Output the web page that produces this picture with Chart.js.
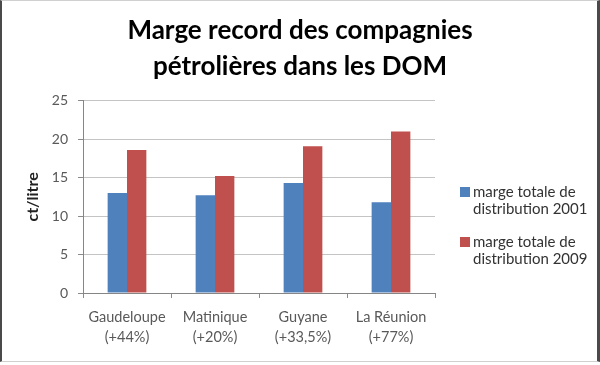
<!DOCTYPE html>
<html>
<head>
<meta charset="utf-8">
<script src="https://cdn.jsdelivr.net/npm/chart.js"></script>
<style>
  body { margin: 0; background: #fff; }
  #wrap { position: relative; width: 600px; height: 365px; }
  #frame {
    position: absolute; left: 0; top: 0; width: 595px; height: 360px;
    border-left: 2px solid #4a4a4a; border-right: 3px solid #4a4a4a;
    border-top: 1px solid #d0d0d0; border-bottom: 1px solid #d0d0d0;
    pointer-events: none;
  }
</style>
</head>
<body>
<div id="wrap">
  <canvas id="chart" width="600" height="365"></canvas>
  <div id="frame"></div>
</div>
<script>
var categories = [
    ['Gaudeloupe', '(+44%)'],
    ['Matinique', '(+20%)'],
    ['Guyane', '(+33,5%)'],
    ['La Réunion', '(+77%)']
];
var marge2001 = [13.0, 12.7, 14.3, 11.8];
var marge2009 = [18.6, 15.2, 19.1, 21.0];
var legend2001 = ['marge totale de', 'distribution 2001'];
var legend2009 = ['marge totale de', 'distribution 2009'];
var titleLines = ['Marge record des compagnies', 'pétrolières dans les DOM'];
var yTitle = 'ct/litre';
var yMin = 0, yMax = 25, yStep = 5;

// legend drawn by hand since the labels wrap on two lines,
// and the title is re-centred over the whole canvas
var wrapLegend = {
    id: 'wrapLegend',
    afterLayout: function(chart) {
        chart.titleBlock.left = 0;
        chart.titleBlock.right = chart.width;
    },
    afterDraw: function(chart) {
        var ctx = chart.ctx;
        var x = chart.chartArea.right + 25;
        var items = [
            { lines: legend2001, color: chart.data.datasets[0].backgroundColor, y: 187 },
            { lines: legend2009, color: chart.data.datasets[1].backgroundColor, y: 237 }
        ];
        ctx.save();
        ctx.font = '15px Lato';
        ctx.textBaseline = 'middle';
        ctx.textAlign = 'left';
        items.forEach(function(it) {
            ctx.fillStyle = it.color;
            ctx.fillRect(x, it.y, 10, 10);
            ctx.fillStyle = '#333';
            ctx.fillText(it.lines[0], x + 13, it.y + 5);
            ctx.fillText(it.lines[1], x + 13, it.y + 22);
        });
        ctx.restore();
    }
};

var ctx = document.getElementById('chart').getContext('2d');
var myChart = new Chart(ctx, {
    type: 'bar',
    data: {
        labels: categories,
        datasets: [{
            label: legend2001.join(' '),
            data: marge2001,
            backgroundColor: '#4F81BD',
            barPercentage: 1,
            categoryPercentage: 0.44
        },
        {
            label: legend2009.join(' '),
            data: marge2009,
            backgroundColor: '#C0504D',
            barPercentage: 1,
            categoryPercentage: 0.44
        }]
    },
    options: {
        responsive: false,
        animation: false,
        layout: { padding: { left: 0, right: 165, top: 0, bottom: 0 } },
        plugins: {
            legend: { display: false },
            tooltip: { enabled: false },
            title: {
                display: true,
                text: titleLines,
                color: '#000',
                font: { family: 'Lato', size: 26, weight: 'bold', lineHeight: 1.38 },
                padding: { top: 13, bottom: 16 }
            }
        },
        scales: {
            x: {
                grid: { display: true, drawOnChartArea: false, tickLength: 5, color: '#8a8a8a' },
                border: { color: '#868686' },
                ticks: {
                    color: '#595959',
                    font: { family: 'Lato', size: 14.5, lineHeight: 1.35 },
                    padding: 10,
                    maxRotation: 0
                },
                afterFit: function(s) { s.height = 72; }
            },
            y: {
                min: yMin,
                max: yMax,
                ticks: {
                    stepSize: yStep,
                    color: '#595959',
                    font: { family: 'Lato', size: 14 },
                    padding: 10
                },
                grid: { color: '#c4c4c4', tickColor: '#8a8a8a', tickLength: 5 },
                border: { color: '#868686' },
                title: {
                    display: true,
                    text: yTitle,
                    color: '#222',
                    font: { family: 'Lato', size: 16, weight: 'bold' },
                    padding: { top: 23, bottom: 0 }
                },
                afterFit: function(s) { s.width = 83; }
            }
        }
    },
    plugins: [wrapLegend]
});
</script>
</body>
</html>
